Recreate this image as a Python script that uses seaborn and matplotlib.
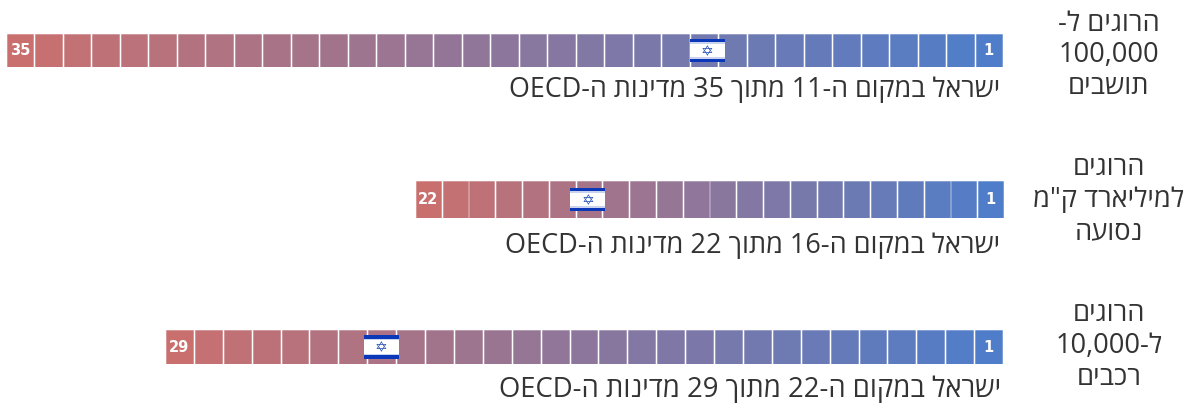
import re
import matplotlib
matplotlib.use("Agg")
import matplotlib.pyplot as plt
import matplotlib.colors as mc
from matplotlib.patches import Rectangle
import pandas as pd
import seaborn as sns

sns.set_theme(style="white")
plt.rcParams["font.family"] = ["Open Sans", "DejaVu Sans"]

W, H = 1188, 403
country_counts = [35, 22, 29]
israel_ranks = [11, 16, 22]
captions = ["ישראל במקום ה-11 מתוך 35 מדינות ה-OECD",
            "ישראל במקום ה-16 מתוך 22 מדינות ה-OECD",
            "ישראל במקום ה-22 מתוך 29 מדינות ה-OECD"]
row_titles = [["הרוגים ל-", "100,000", "תושבים"],
              ["הרוגים", "למיליארד ק\"מ", "נסועה"],
              ["הרוגים", "ל-10,000", "רכבים"]]
# pixel boxes: left, top, right, bottom
boxes = [(6, 34, 1003, 67), (415, 181, 1004, 218), (165, 330, 1003, 364)]
flag_offsets_px = [3.5, -1.5, -0.5]
caption_pos = [(1000, 90), (1000, 246), (1001, 390)]
caption_sizes = [19.4, 19.5, 19.8]
title_pos = [(1109, [24, 55, 87]), (1109, [168, 200, 232]), (1109, [314, 346, 378])]

BLUE, RED = "#4f7dc9", "#c9706f"


def visual(s):
    tokens = re.findall(r"[A-Za-z0-9,]+|[^A-Za-z0-9,]+", s)
    return "".join(t if re.match(r"[A-Za-z0-9,]", t) else t[::-1] for t in reversed(tokens))


fig = plt.figure(figsize=(W / 100, H / 100), dpi=100)
for n, rank, box, off in zip(country_counts, israel_ranks, boxes, flag_offsets_px):
    l, t, r, b = box
    ax = fig.add_axes([l / W, 1 - b / H, (r - l) / W, (b - t) / H])
    df = pd.DataFrame({"rank": list(range(1, n + 1)), "v": [1] * n})
    cmap = mc.LinearSegmentedColormap.from_list("g", [BLUE, RED])
    pal = {k: cmap((k - 1) / (n - 1)) for k in df["rank"]}
    sns.barplot(df, x="rank", y="v", hue="rank", palette=pal, native_scale=True,
                width=0.93, legend=False, saturation=1, ax=ax, linewidth=0)
    for k, p in zip(df["rank"], ax.patches):
        p.set_edgecolor(mc.to_rgba(mc.to_hex(pal[k]), 0.45))
        p.set_linewidth(0.7)
    ax.set_xlim(n + 0.5, 0.5)
    ax.set_ylim(0, 1)
    ax.axis("off")
    for k in (1, n):
        ax.text(k, 0.49, str(k), color="white", fontweight="bold", fontsize=10.5,
                ha="center", va="center", family="DejaVu Sans")
    # flag
    pw = n / (r - l)
    py = 1 / (b - t)
    fw, fh = 35 * pw, 23.5 * py
    xc = rank - off * pw
    x0, y0 = xc - fw / 2, 0.5 - fh / 2
    flag_blue = "#0a38b8"
    ax.add_patch(Rectangle((x0, y0), fw, fh, fc="white", ec="none", zorder=5))
    ax.add_patch(Rectangle((x0, y0), fw, 0.15 * fh, fc=flag_blue, ec="none", zorder=6))
    ax.add_patch(Rectangle((x0, y0 + 0.85 * fh), fw, 0.15 * fh, fc=flag_blue, ec="none", zorder=6))
    ax.add_patch(Rectangle((x0, y0 + 0.15 * fh), fw, 0.07 * fh, fc="#c9d3ee", ec="none", zorder=6))
    ax.add_patch(Rectangle((x0, y0 + 0.78 * fh), fw, 0.07 * fh, fc="#c9d3ee", ec="none", zorder=6))
    ax.text(xc, 0.48, "\u2721", color="#2a55b5", fontsize=11, ha="center", va="center",
            zorder=7, family="DejaVu Sans")

for cap, (x, y), size in zip(captions, caption_pos, caption_sizes):
    fig.text(x / W, 1 - y / H, visual(cap), ha="right", va="center", fontsize=size, color="#333333")
for lines, (x, ys) in zip(row_titles, title_pos):
    for line, y in zip(lines, ys):
        fig.text(x / W, 1 - y / H, visual(line), ha="center", va="center", fontsize=19.6, color="#333333")

fig.savefig("out.png", dpi=100, facecolor="white")
